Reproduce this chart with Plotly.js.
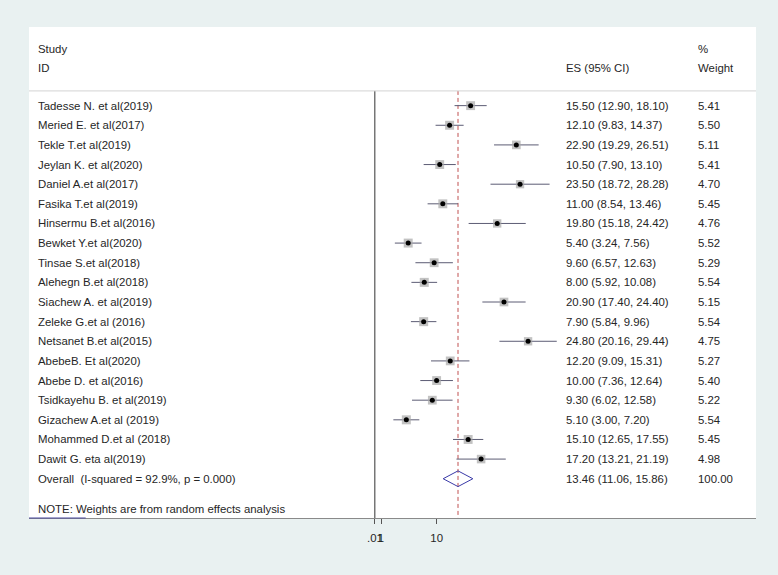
<!DOCTYPE html>
<html>
<head>
<meta charset="utf-8">
<script src="https://cdn.plot.ly/plotly-3.0.1.min.js"></script>
<style>html,body{margin:0;padding:0;background:#e9f1f1;}#chart{width:778px;height:575px;}</style>
</head>
<body>
<div id="chart"></div>
<script>
const studies = [
  "Tadesse N. et al(2019)",
  "Meried E. et al(2017)",
  "Tekle T.et al(2019)",
  "Jeylan K. et al(2020)",
  "Daniel A.et al(2017)",
  "Fasika T.et al(2019)",
  "Hinsermu B.et al(2016)",
  "Bewket Y.et al(2020)",
  "Tinsae S.et al(2018)",
  "Alehegn B.et al(2018)",
  "Siachew A. et al(2019)",
  "Zeleke G.et al (2016)",
  "Netsanet B.et al(2015)",
  "AbebeB. Et al(2020)",
  "Abebe D. et al(2016)",
  "Tsidkayehu B. et al(2019)",
  "Gizachew A.et al (2019)",
  "Mohammed D.et al (2018)",
  "Dawit G. eta al(2019)"
];
const es = [15.50, 12.10, 22.90, 10.50, 23.50, 11.00, 19.80, 5.40, 9.60, 8.00, 20.90, 7.90, 24.80, 12.20, 10.00, 9.30, 5.10, 15.10, 17.20];
const lower = [12.90, 9.83, 19.29, 7.90, 18.72, 8.54, 15.18, 3.24, 6.57, 5.92, 17.40, 5.84, 20.16, 9.09, 7.36, 6.02, 3.00, 12.65, 13.21];
const upper = [18.10, 14.37, 26.51, 13.10, 28.28, 13.46, 24.42, 7.56, 12.63, 10.08, 24.40, 9.96, 29.44, 15.31, 12.64, 12.58, 7.20, 17.55, 21.19];
const weights = [5.41, 5.50, 5.11, 5.41, 4.70, 5.45, 4.76, 5.52, 5.29, 5.54, 5.15, 5.54, 4.75, 5.27, 5.40, 5.22, 5.54, 5.45, 4.98];
const overallLabel = "Overall  (I-squared = 92.9%, p = 0.000)";
const overallES = 13.46;
const overallLower = 11.06;
const overallUpper = 15.86;
const overallWeight = 100.00;
const tickVals = [0.01, 1, 10];
const tickText = [".01", "1", "10"];
const noteText = "NOTE: Weights are from random effects analysis";

const n = studies.length;
const rows = studies.map((_, i) => i);
const overallRow = n;

// layout columns (axis units)
const xStudy = -54.6, xES = 30.8, xW = 52.1;
const FONT = {family: "Liberation Sans, Arial, sans-serif", size: 11.4, color: "#262626"};

// CI lines
const ciX = [], ciY = [];
rows.forEach(i => { ciX.push(lower[i], upper[i], null); ciY.push(i, i, null); });

const traces = [
  {x: ciX, y: ciY, mode: "lines", line: {color: "#5c5c74", width: 1}, hoverinfo: "skip", showlegend: false},
  {x: es, y: rows, mode: "markers", hoverinfo: "skip", showlegend: false,
   marker: {symbol: "square", color: "#a8a8a8", size: weights.map(w => 9 * Math.sqrt(w / 5.54)), line: {width: 0}}},
  {x: es, y: rows, mode: "markers", hoverinfo: "skip", showlegend: false,
   marker: {symbol: "circle", color: "#000", size: 5}},
  {x: [overallLower, overallES, overallUpper, overallES, overallLower],
   y: [overallRow, overallRow - 0.4, overallRow, overallRow + 0.4, overallRow],
   mode: "lines", fill: "toself", fillcolor: "rgba(255,255,255,0)",
   line: {color: "#3a3aa8", width: 1}, hoverinfo: "skip", showlegend: false}
];

const ann = [];
function txt(x, y, t) {
  ann.push({x: x, y: y, xref: "x", yref: "y", text: t, showarrow: false,
            xanchor: "left", yanchor: "middle", font: FONT, borderpad: 0});
}
txt(xStudy, -2.9, "Study");
txt(xStudy, -1.94, "ID");
txt(xES, -1.94, "ES (95% CI)");
txt(xW, -2.9, "%");
txt(xW, -1.94, "Weight");
rows.forEach(i => {
  txt(xStudy, i, studies[i]);
  txt(xES, i, es[i].toFixed(2) + " (" + lower[i].toFixed(2) + ", " + upper[i].toFixed(2) + ")");
  txt(xW, i, weights[i].toFixed(2));
});
txt(xStudy, overallRow, overallLabel);
txt(xES, overallRow, overallES.toFixed(2) + " (" + overallLower.toFixed(2) + ", " + overallUpper.toFixed(2) + ")");
txt(xW, overallRow, overallWeight.toFixed(2));
txt(xStudy, 20.54, noteText);

const yBottom = 21.0, yTop = -4.005;
const shapes = [
  {type: "line", xref: "paper", yref: "y", x0: 0, x1: 1, y0: -0.75, y1: -0.75, line: {color: "#d4d4d4", width: 1}},
  {type: "line", xref: "x", yref: "y", x0: 0, x1: 0, y0: -0.75, y1: yBottom, line: {color: "#333", width: 1}, layer: "below"},
  {type: "line", xref: "x", yref: "y", x0: overallES, x1: overallES, y0: -0.75, y1: yBottom, line: {color: "#c05050", width: 1, dash: "4px,3px"}, layer: "below"},
  {type: "line", xref: "paper", yref: "paper", x0: 0, x1: 0.078, y0: 0, y1: 0, line: {color: "#4a4aa0", width: 1.2}}
];

const layout = {
  width: 778, height: 575,
  margin: {l: 29, r: 22, t: 27, b: 57, pad: 0},
  paper_bgcolor: "#e9f1f1", plot_bgcolor: "#ffffff",
  showlegend: false,
  font: FONT,
  xaxis: {range: [-55.96, 61.68], tickmode: "array", tickvals: tickVals, ticktext: tickText,
          ticks: "outside", ticklen: 5, tickcolor: "#555", tickwidth: 1, tickangle: 0,
          ticklabelstandoff: 4,
          showline: true, linecolor: "#8a8a8a", linewidth: 1, showgrid: false, zeroline: false,
          tickfont: FONT, fixedrange: true},
  yaxis: {range: [yBottom, yTop], visible: false, showgrid: false, zeroline: false, fixedrange: true},
  shapes: shapes,
  annotations: ann
};

Plotly.newPlot("chart", traces, layout, {displayModeBar: false, staticPlot: true});
</script>
</body>
</html>
